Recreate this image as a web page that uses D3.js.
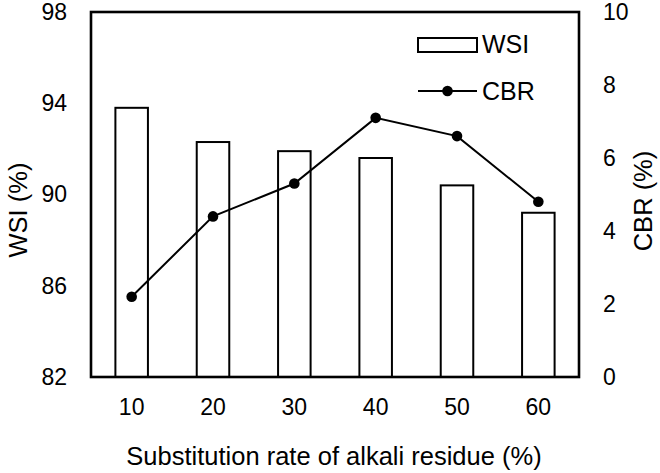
<!DOCTYPE html>
<html>
<head>
<meta charset="utf-8">
<script src="https://cdn.jsdelivr.net/npm/d3@7"></script>
<style>
  body { margin: 0; background: #fff; }
  text { font-family: "Liberation Sans", Arial, sans-serif; fill: #000; }
</style>
</head>
<body>
<div id="chart"></div>
<script>
// data
const rates = [10, 20, 30, 40, 50, 60];
const wsi = [93.8, 92.3, 91.9, 91.6, 90.4, 89.2];
const cbr = [2.2, 4.4, 5.3, 7.1, 6.6, 4.8];
const wsiTicks = [82, 86, 90, 94, 98];
const cbrTicks = [0, 2, 4, 6, 8, 10];

const width = 660, height = 473;
const margin = { top: 12, right: 81, bottom: 96, left: 91 };
const w = width - margin.left - margin.right;
const h = height - margin.top - margin.bottom;

const svg = d3.select("#chart").append("svg")
    .attr("width", width)
    .attr("height", height);

const g = svg.append("g")
    .attr("transform", "translate(" + margin.left + "," + margin.top + ")");

const x = d3.scaleBand().domain(rates).range([0, w]).paddingInner(0.6).paddingOuter(0.3);
const yL = d3.scaleLinear().domain([82, 98]).range([h, 0]);
const yR = d3.scaleLinear().domain([0, 10]).range([h, 0]);

// bars
g.selectAll("rect.bar")
    .data(rates)
    .enter().append("rect")
    .attr("class", "bar")
    .attr("x", d => x(d))
    .attr("width", x.bandwidth())
    .attr("y", (d, i) => yL(wsi[i]))
    .attr("height", (d, i) => h - yL(wsi[i]))
    .attr("fill", "#fff")
    .attr("stroke", "#000")
    .attr("stroke-width", 2);

// CBR line
const line = d3.line()
    .x((d, i) => x(rates[i]) + x.bandwidth() / 2)
    .y(d => yR(d));

g.append("path")
    .datum(cbr)
    .attr("d", line)
    .attr("fill", "none")
    .attr("stroke", "#000")
    .attr("stroke-width", 2);

g.selectAll("circle.pt")
    .data(cbr)
    .enter().append("circle")
    .attr("class", "pt")
    .attr("cx", (d, i) => x(rates[i]) + x.bandwidth() / 2)
    .attr("cy", d => yR(d))
    .attr("r", 5.3)
    .attr("fill", "#000");

// frame
g.append("rect")
    .attr("width", w)
    .attr("height", h)
    .attr("fill", "none")
    .attr("stroke", "#000")
    .attr("stroke-width", 2.6);

// axes (labels only)
const axL = g.append("g")
    .call(d3.axisLeft(yL).tickValues(wsiTicks).tickSize(0).tickPadding(24));
const axR = g.append("g")
    .attr("transform", "translate(" + w + ",0)")
    .call(d3.axisRight(yR).tickValues(cbrTicks).tickSize(0).tickPadding(24));
const axB = g.append("g")
    .attr("transform", "translate(0," + h + ")")
    .call(d3.axisBottom(x).tickSize(0).tickPadding(22));

[axL, axR, axB].forEach(a => {
    a.select(".domain").remove();
    a.selectAll("text").style("font-size", "23px").attr("fill", "#000")
        .style("font-family", "Liberation Sans, Arial, sans-serif");
});

// axis titles
svg.append("text")
    .attr("transform", "translate(27,210) rotate(-90)")
    .attr("text-anchor", "middle")
    .style("font-size", "25.5px")
    .text("WSI (%)");

svg.append("text")
    .attr("transform", "translate(652,201) rotate(-90)")
    .attr("text-anchor", "middle")
    .style("font-size", "25.5px")
    .text("CBR (%)");

svg.append("text")
    .attr("x", 334)
    .attr("y", 465)
    .attr("text-anchor", "middle")
    .style("font-size", "25.5px")
    .text("Substitution rate of alkali residue (%)");

// legend
const lg = svg.append("g");
lg.append("rect")
    .attr("x", 418).attr("y", 38)
    .attr("width", 59).attr("height", 14)
    .attr("fill", "#fff").attr("stroke", "#000").attr("stroke-width", 2);
lg.append("text")
    .attr("x", 482).attr("y", 53)
    .style("font-size", "25px")
    .text("WSI");
lg.append("line")
    .attr("x1", 418).attr("x2", 477)
    .attr("y1", 91).attr("y2", 91)
    .attr("stroke", "#000").attr("stroke-width", 2);
lg.append("circle")
    .attr("cx", 447.5).attr("cy", 91).attr("r", 5.3).attr("fill", "#000");
lg.append("text")
    .attr("x", 482).attr("y", 100)
    .style("font-size", "25px")
    .text("CBR");
</script>
</body>
</html>
